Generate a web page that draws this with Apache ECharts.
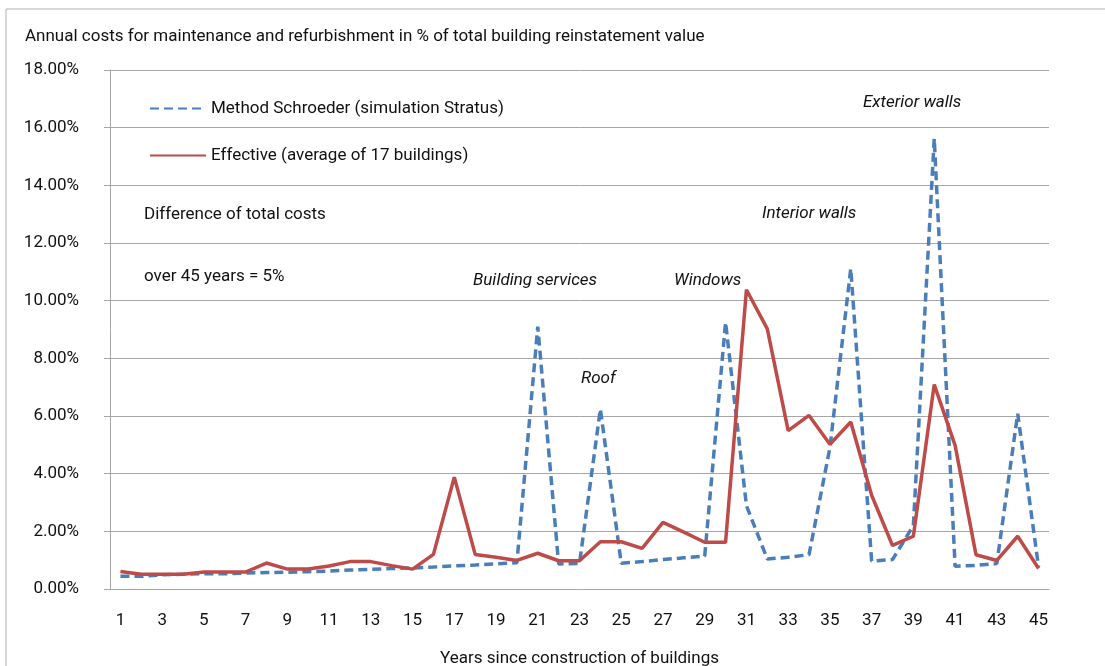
<!DOCTYPE html>
<html lang="en">
<head>
    <meta charset="UTF-8">
    <title>Annual costs for maintenance and refurbishment</title>
    <style>
        html, body { margin: 0; padding: 0; background: #fff; }
    </style>
</head>
<body>
<div id="main" style="width: 1105px;height:666px;"></div>

<script src="https://cdn.jsdelivr.net/npm/echarts@6/dist/echarts.min.js"></script>
<script>
    // years 1..45
    var years = [];
    for (var i = 1; i <= 45; i++) years.push(String(i));

    // Method Schroeder (simulation Stratus), % of reinstatement value
    var schroeder = [
        0.44, 0.44, 0.49, 0.51, 0.53, 0.53, 0.55, 0.57, 0.58, 0.60,
        0.62, 0.66, 0.68, 0.71, 0.73, 0.76, 0.80, 0.83, 0.87, 0.91,
        9.10, 0.87, 0.89, 6.24, 0.89, 0.95, 1.02, 1.08, 1.14, 9.25,
        2.89, 1.04, 1.10, 1.19, 4.90, 11.11, 0.97, 1.02, 2.20, 15.62,
        0.79, 0.82, 0.88, 6.08, 0.76
    ];

    // Effective (average of 17 buildings)
    var effective = [
        0.61, 0.51, 0.51, 0.51, 0.59, 0.59, 0.59, 0.90, 0.69, 0.69,
        0.80, 0.95, 0.95, 0.81, 0.69, 1.20, 3.88, 1.20, 1.10, 0.99,
        1.24, 0.98, 0.98, 1.64, 1.64, 1.41, 2.31, 1.97, 1.62, 1.62,
        10.38, 9.02, 5.49, 6.02, 5.02, 5.79, 3.25, 1.51, 1.83, 7.09,
        4.98, 1.19, 0.99, 1.83, 0.71
    ];

    var seriesNames = ['Method Schroeder (simulation Stratus)', 'Effective (average of 17 buildings)'];

    var font = 'Roboto, "Liberation Sans", sans-serif';
    var fs = 17;
    var textColor = '#111';

    var myChart = echarts.init(document.getElementById('main'));

    var option = {
        animation: false,
        textStyle: { fontFamily: font, color: textColor },
        title: {
            text: 'Annual costs for maintenance and refurbishment in % of total building reinstatement value',
            left: 20,
            top: 23,
            textStyle: { fontFamily: font, fontSize: fs, fontWeight: 'normal', color: textColor }
        },
        legend: {
            data: seriesNames,
            orient: 'vertical',
            left: 144,
            top: 95,
            itemWidth: 56,
            itemHeight: 14,
            itemGap: 30,
            itemStyle: { opacity: 0 },
            textStyle: { fontFamily: font, fontSize: fs, color: textColor }
        },
        grid: { left: 110, right: 56, top: 70, bottom: 77, outerBoundsMode: 'none', containLabel: false },
        xAxis: {
            type: 'category',
            data: years,
            name: 'Years since construction of buildings',
            nameLocation: 'middle',
            nameGap: 61,
            nameTextStyle: { fontFamily: font, fontSize: fs, color: textColor },
            axisLine: { lineStyle: { color: '#a6a6a6' } },
            axisTick: { length: 6, lineStyle: { color: '#a6a6a6' } },
            axisLabel: { interval: 1, margin: 23, fontFamily: font, fontSize: fs, color: textColor }
        },
        yAxis: {
            type: 'value',
            min: 0,
            max: 18,
            interval: 2,
            axisLine: { show: true, lineStyle: { color: '#a6a6a6' } },
            axisTick: { show: true, length: 6, lineStyle: { color: '#a6a6a6' } },
            splitLine: { lineStyle: { color: '#a6a6a6' } },
            axisLabel: {
                margin: 31,
                fontFamily: font, fontSize: fs, color: textColor,
                formatter: function (v) { return v.toFixed(2) + '%'; }
            }
        },
        graphic: [
            { type: 'rect', shape: { x: 6, y: 9, width: 1200, height: 760 }, style: { fill: 'none', stroke: '#b0b0b0', lineWidth: 1 }, z: -1 },
            { type: 'text', left: 144, top: 206, style: { text: 'Difference of total costs', font: fs + 'px ' + font, fill: textColor } },
            { type: 'text', left: 144, top: 268, style: { text: 'over 45 years = 5%', font: fs + 'px ' + font, fill: textColor } },
            { type: 'text', left: 473, top: 272, style: { text: 'Building services', font: 'italic ' + fs + 'px ' + font, fill: textColor } },
            { type: 'text', left: 581, top: 370, style: { text: 'Roof', font: 'italic ' + fs + 'px ' + font, fill: textColor } },
            { type: 'text', left: 674, top: 272, style: { text: 'Windows', font: 'italic ' + fs + 'px ' + font, fill: textColor } },
            { type: 'text', left: 762, top: 205, style: { text: 'Interior walls', font: 'italic ' + fs + 'px ' + font, fill: textColor } },
            { type: 'text', left: 863, top: 94, style: { text: 'Exterior walls', font: 'italic ' + fs + 'px ' + font, fill: textColor } }
        ],
        series: [
            {
                name: seriesNames[0],
                type: 'line',
                data: schroeder,
                symbol: 'none',
                z: 2,
                lineStyle: { color: '#4a7ebb', width: 3.5, type: [9, 5] },
                itemStyle: { color: '#4a7ebb' }
            },
            {
                name: seriesNames[1],
                type: 'line',
                data: effective,
                symbol: 'none',
                z: 3,
                lineStyle: { color: '#be4b48', width: 3.5 },
                itemStyle: { color: '#be4b48' }
            }
        ]
    };

    myChart.setOption(option);
</script>
</body>
</html>
